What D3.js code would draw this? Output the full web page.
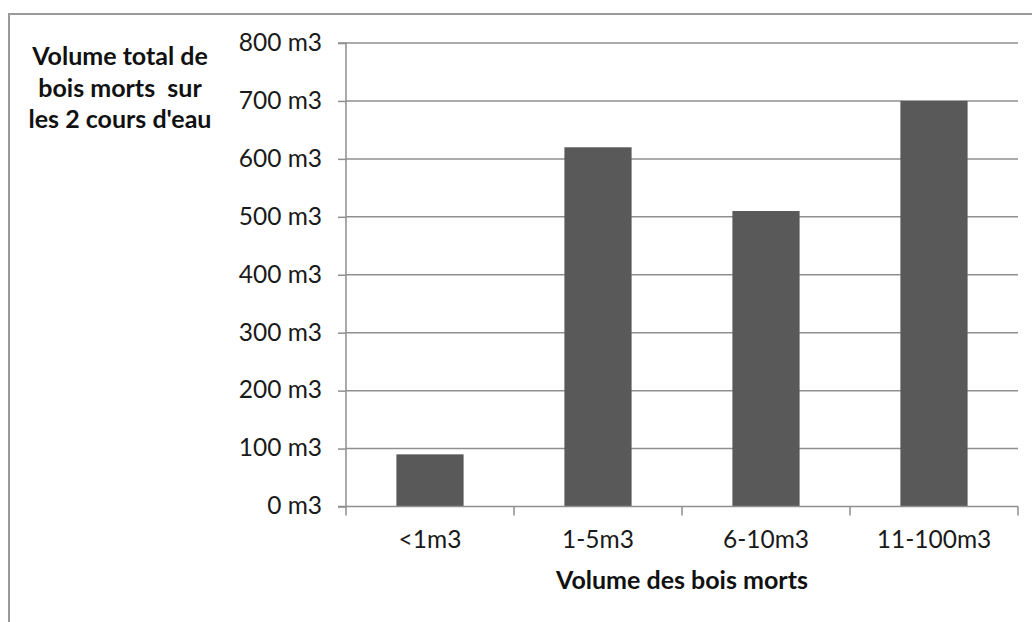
<!DOCTYPE html>
<html><head><meta charset="utf-8">
<script src="https://cdn.jsdelivr.net/npm/d3@7/dist/d3.min.js"></script>
<style>body{margin:0;background:#fff}svg{display:block}</style>
</head><body>
<script>
const categories = ["<1m3", "1-5m3", "6-10m3", "11-100m3"];
const values = [90, 620, 510, 700];
const yTicks = [0, 100, 200, 300, 400, 500, 600, 700, 800];
const yTitleLines = ["Volume total de", "bois morts  sur", "les 2 cours d'eau"];
const xTitle = "Volume des bois morts";

const W = 1032, H = 622;
const svg = d3.select("body").append("svg").attr("width", W).attr("height", H);
const font = "Lato, 'Open Sans', sans-serif";

svg.append("rect").attr("x", 9).attr("y", 14).attr("width", W).attr("height", H)
  .attr("fill", "#fff").attr("stroke", "#9a9a9a").attr("stroke-width", 2);

const x0 = 346, x1 = 1018, yTop = 43, yBot = 506.5;
const x = d3.scaleBand().domain(categories).range([x0, x1]).paddingInner(0.6).paddingOuter(0.3);
const y = d3.scaleLinear().domain([0, 800]).range([yBot, yTop]);

// gridlines
svg.append("g").selectAll("line").data(yTicks.filter(d => d > 0)).join("line")
  .attr("x1", x0).attr("x2", x1).attr("y1", d => y(d)).attr("y2", d => y(d))
  .attr("stroke", "#8f8f8f").attr("stroke-width", 1.5);

// bars
svg.append("g").selectAll("rect").data(categories).join("rect")
  .attr("x", d => x(d)).attr("width", x.bandwidth())
  .attr("y", (d, i) => y(values[i])).attr("height", (d, i) => yBot - y(values[i]))
  .attr("fill", "#595959");

// y axis
const yAxis = svg.append("g").attr("transform", `translate(${x0},0)`)
  .call(d3.axisLeft(y).tickValues(yTicks).tickSize(8).tickPadding(16).tickFormat(d => d + " m3"));
yAxis.select(".domain").attr("stroke", "#8f8f8f").attr("stroke-width", 1.5).attr("d", `M-8,${yTop}H0V${yBot}H-8`);
yAxis.selectAll(".tick line").attr("stroke", "#8f8f8f").attr("stroke-width", 1.5);
yAxis.selectAll("text").attr("font-family", font).attr("font-size", 24.5).attr("fill", "#1a1a1a")
  .attr("dy", "0.3em");

// x axis
const step = (x1 - x0) / categories.length;
const bounds = d3.range(categories.length + 1).map(i => x0 + i * step);
svg.append("line").attr("x1", x0).attr("x2", x1).attr("y1", yBot).attr("y2", yBot)
  .attr("stroke", "#8f8f8f").attr("stroke-width", 1.5);
svg.append("g").selectAll("line").data(bounds).join("line")
  .attr("x1", d => d).attr("x2", d => d).attr("y1", yBot).attr("y2", yBot + 9)
  .attr("stroke", "#8f8f8f").attr("stroke-width", 1.5);
svg.append("g").selectAll("text").data(categories).join("text")
  .attr("x", d => x(d) + x.bandwidth() / 2).attr("y", 548)
  .attr("text-anchor", "middle").attr("font-family", font).attr("font-size", 24.5).attr("fill", "#1a1a1a")
  .text(d => d);

// titles
svg.append("text").attr("x", 682).attr("y", 589).attr("text-anchor", "middle")
  .attr("font-family", font).attr("font-size", 25).attr("font-weight", "bold").attr("fill", "#111")
  .text(xTitle);
svg.append("g").selectAll("text").data(yTitleLines).join("text")
  .attr("x", 120).attr("y", (d, i) => 65 + i * 31.5).attr("text-anchor", "middle")
  .attr("font-family", font).attr("font-size", 25).attr("font-weight", "bold").attr("fill", "#111")
  .attr("xml:space", "preserve").style("white-space", "pre")
  .text(d => d);
</script>
</body></html>
